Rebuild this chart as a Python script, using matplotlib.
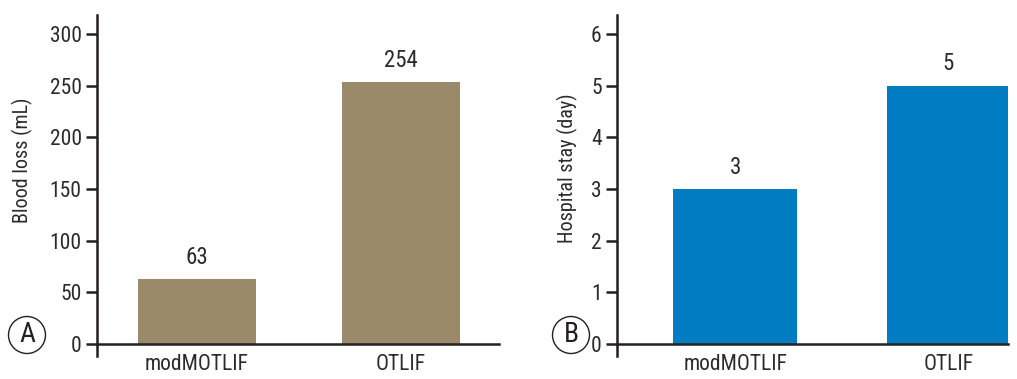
import matplotlib
matplotlib.use("Agg")
import matplotlib.pyplot as plt
from matplotlib import font_manager

# ── Data ──────────────────────────────────────────────────────────────────────

groups = ["modMOTLIF", "OTLIF"]
blood_loss = [63, 254]
hospital_stay = [3, 5]
blood_ticks = [0, 50, 100, 150, 200, 250, 300]
stay_ticks = [0, 1, 2, 3, 4, 5, 6]

# ── Style ─────────────────────────────────────────────────────────────────────

names = {f.name for f in font_manager.fontManager.ttflist}
prefs = ["Roboto Condensed", "Liberation Sans Narrow", "Open Sans Condensed",
         "Noto Sans Condensed", "Roboto"]
narrow = next((n for n in prefs if n in names), "DejaVu Sans")
plt.rcParams["font.family"] = [narrow, "DejaVu Sans"]

INK = "#231f20"
TXT = "#2b2b2b"
TAN = "#9b8a6a"
BLUE = "#007cc3"


def style_axis(ax, ylim, ticks, ylabel, label_xy):
    ax.set_ylim(*ylim)
    ax.set_yticks(ticks)
    for side in ("top", "right"):
        ax.spines[side].set_visible(False)
    ax.spines["bottom"].set_position(("data", 0))
    for side in ("left", "bottom"):
        ax.spines[side].set_linewidth(1.8)
        ax.spines[side].set_color(INK)
    ax.tick_params(axis="y", length=8, width=1.8, color=INK, labelsize=15.5,
                   labelcolor=TXT, pad=3)
    ax.tick_params(axis="x", length=0, labelsize=15.5, labelcolor=TXT, pad=7)
    ax.set_ylabel(ylabel, fontsize=14.5, color=TXT)
    ax.yaxis.set_label_coords(*label_xy)


def annotate(ax, x, vals, offset):
    for xi, v in zip(x, vals):
        ax.text(xi, v + offset, str(v), ha="center", va="baseline", fontsize=16.5, color=TXT)


fig = plt.figure(figsize=(10.17, 3.79), dpi=100)

# ── Panel A ───────────────────────────────────────────────────────────────────

ax1 = fig.add_axes([0.0954, 0.0607, 0.3953, 0.8997])
x = range(len(groups))
ax1.bar(x, blood_loss, width=0.58, color=TAN)
ax1.set_xlim(-0.49, 1.48)
ax1.set_xticks(list(x), groups)
style_axis(ax1, (-11.6, 318.4), blood_ticks, "Blood loss (mL)", (-0.16, 0.575))
annotate(ax1, x, blood_loss, 14)

# ── Panel B ───────────────────────────────────────────────────────────────────

ax2 = fig.add_axes([0.6067, 0.0607, 0.3845, 0.8997])
ax2.bar(x, hospital_stay, width=0.58, color=BLUE)
ax2.set_xlim(-0.554, 1.28)
ax2.set_xticks(list(x), groups)
style_axis(ax2, (-0.232, 6.37), stay_ticks, "Hospital stay (day)", (-0.10, 0.55))
annotate(ax2, x, hospital_stay, 0.3)

# ── Panel letters ─────────────────────────────────────────────────────────────

for xf, letter in [(27 / 1017, "A"), (571 / 1017, "B")]:
    fig.text(xf, 1 - 335 / 379, letter, ha="center", va="center", fontsize=20,
             color=INK, bbox=dict(boxstyle="circle,pad=0.18", fc="white", ec=INK, lw=1.0))

fig.savefig("out.png", dpi=100)
